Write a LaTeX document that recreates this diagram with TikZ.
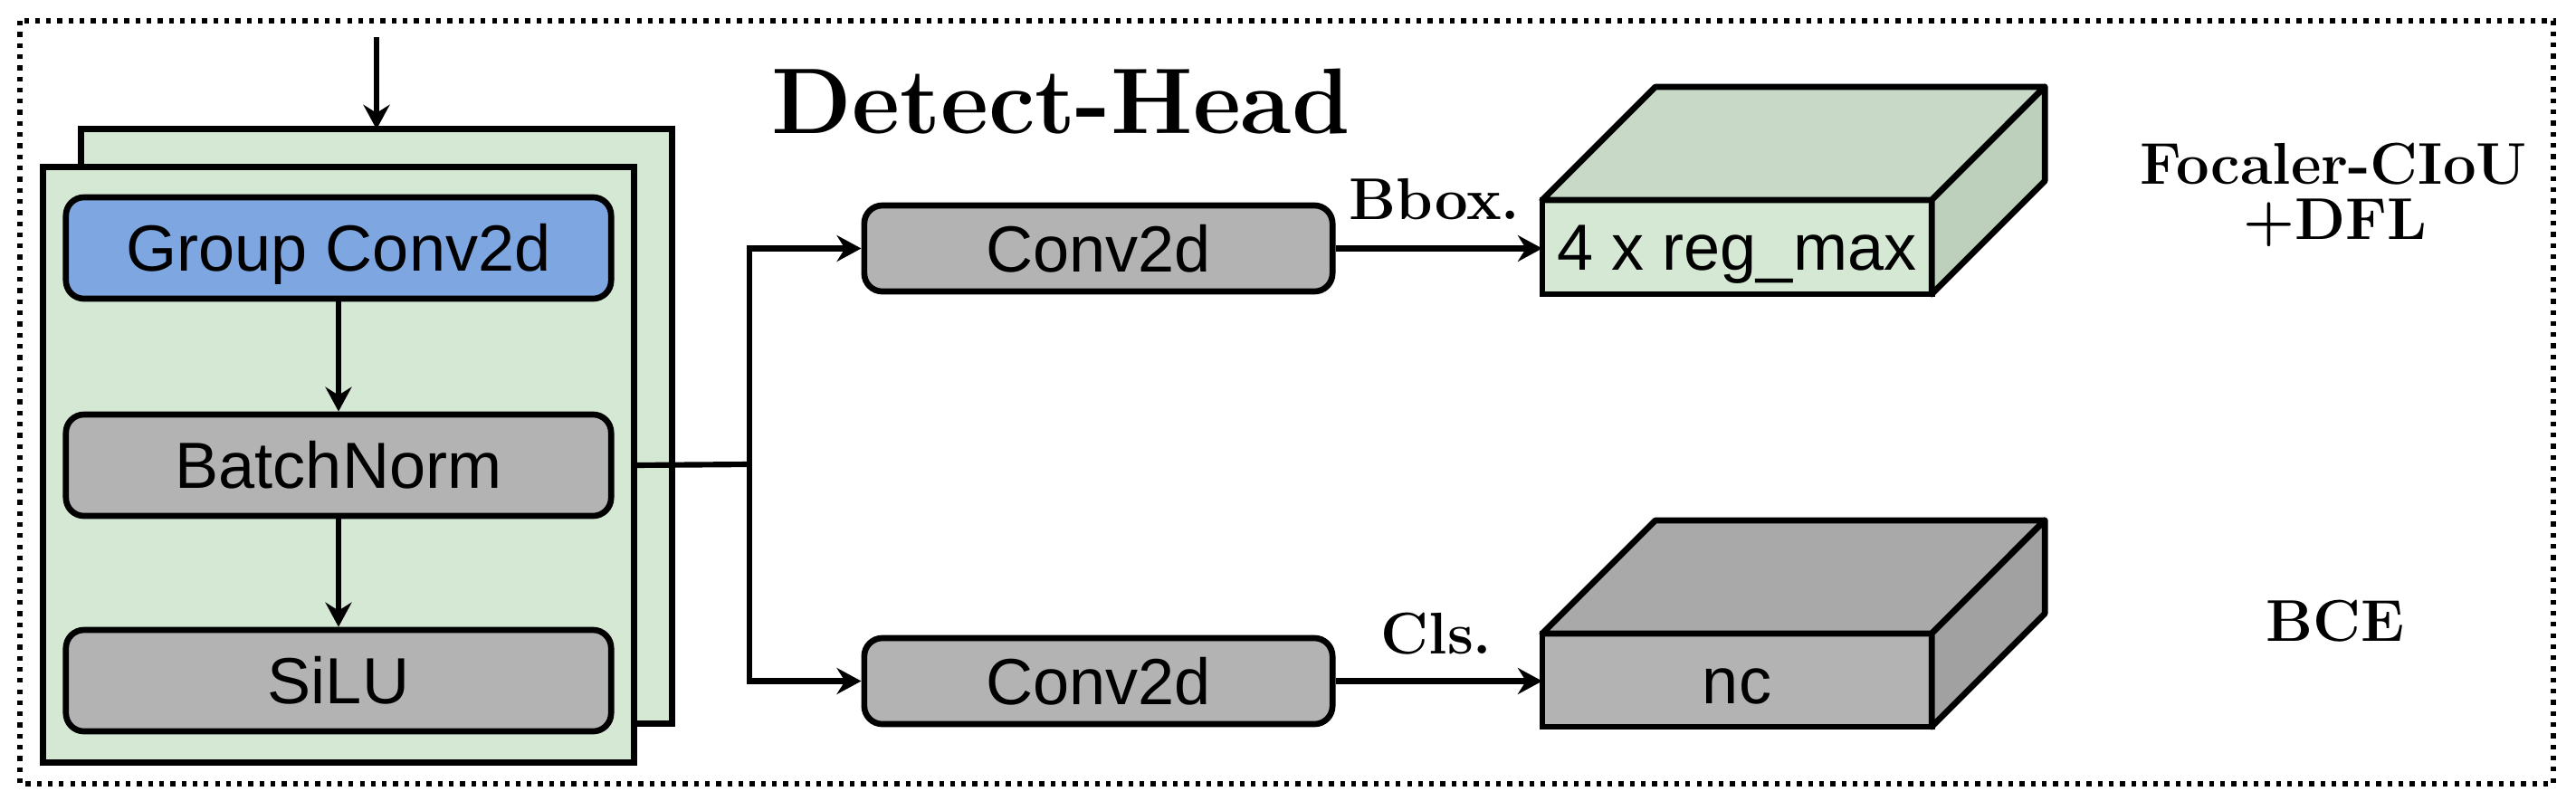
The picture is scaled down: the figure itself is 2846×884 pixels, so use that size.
\documentclass[tikz,border=0pt]{standalone}
\usepackage{fontspec}
\newfontfamily\arialf{Liberation Sans}
\usetikzlibrary{arrows.meta}
\definecolor{pgreen}{HTML}{D5E8D4}
\definecolor{gtop}{HTML}{C8DAC7}
\definecolor{gside}{HTML}{BDD0BC}
\definecolor{pblue}{HTML}{7EA6E0}
\definecolor{pgray}{HTML}{B3B3B3}
\definecolor{graytop}{HTML}{A9A9A9}
\definecolor{grayside}{HTML}{A1A1A1}
\tikzset{
  lw/.style={line width=1.9pt},
  panel/.style={draw, lw, fill=pgreen, inner sep=0pt, outer sep=0pt, minimum width=6.52cm, minimum height=6.56cm},
  layer/.style={draw, lw, rounded corners=0.2cm, inner sep=0pt, font=\arialf\fontsize{20.5}{24}\selectfont, text height=14.7pt, text depth=0pt},
  face/.style={draw, lw, inner sep=0pt, outer sep=0pt, font=\arialf\fontsize{20.5}{24}\selectfont, text height=14.7pt, text depth=0pt, minimum width=4.30cm, minimum height=1.04cm},
  arr/.style={line width=1.75pt, -{Stealth[length=0.27cm,width=0.29cm,inset=0.09cm]}},
  conn/.style={line width=1.75pt},
  lbl/.style={font=\bfseries\fontsize{18.5}{22}\selectfont, inner sep=0pt, anchor=base},
  faceedge/.style={lw, line join=round},
}
\begin{document}
\begin{tikzpicture}[x=0.01cm,y=-0.01cm]
\useasboundingbox (0,0) rectangle (2846,884);
% outer dotted frame
\draw[line width=1.5pt, dash pattern=on 1.5pt off 2pt, draw=black] (22,23) rectangle (2821,866);
% title
\node[font=\bfseries\fontsize{29.3}{34}\selectfont, inner sep=0pt, anchor=base] (title) at (1172,147) {Detect-Head};
% stacked panels
\node[panel] (back) at (416,471) {};
\node[panel, minimum height=6.57cm] (front) at (374,513.5) {};
\coordinate (inp) at (416,41);
\draw[arr] (inp) -- (back.north);
% layers
\node[layer, fill=pblue, minimum width=6.02cm, minimum height=1.12cm] (gc) at (374,274) {Group Conv2d};
\node[layer, fill=pgray, minimum width=6.02cm, minimum height=1.12cm] (bn) at (374,514) {BatchNorm};
\node[layer, fill=pgray, minimum width=6.02cm, minimum height=1.12cm] (silu) at (374,752) {SiLU};
\draw[arr] (gc) -- (bn);
\draw[arr] (bn) -- (silu);
% right conv boxes
\node[layer, fill=pgray, minimum width=5.17cm, minimum height=0.95cm] (c1) at (1213.5,274.5) {Conv2d};
\node[layer, fill=pgray, minimum width=5.17cm, minimum height=0.95cm] (c2) at (1213.5,752.5) {Conv2d};
% branch
\coordinate (sx) at (828,513);
\draw[conn] (front.east |- bn.east) -- (sx);
\draw[arr] (sx) |- (c1.west);
\draw[arr] (sx) |- (c2.west);
% cuboid 1
\node[face, fill=pgreen] (r1) at (1919,273) {4 x reg\_max};
\draw[faceedge, fill=gtop] (r1.north west) -- ++(125,-125) -- ++(430,0) -- (r1.north east) -- cycle;
\draw[faceedge, fill=gside] (r1.north east) -- ++(125,-125) -- ++(0,104) -- (r1.south east) -- cycle;
% cuboid 2
\node[face, fill=pgray, minimum height=1.03cm] (r2) at (1919,751.5) {nc};
\draw[faceedge, fill=graytop] (r2.north west) -- ++(125,-125) -- ++(430,0) -- (r2.north east) -- cycle;
\draw[faceedge, fill=grayside] (r2.north east) -- ++(125,-125) -- ++(0,103) -- (r2.south east) -- cycle;
% outputs
\draw[arr] (c1.east) -- (c1.east -| r1.west);
\draw[arr] (c2.east) -- (c2.east -| r2.west);
\node[lbl] (bbox) at (1585,242) {Bbox.};
\node[lbl] (cls) at (1587,722) {Cls.};
% losses
\node[lbl] (loss1) at (2578,203) {Focaler-CIoU};
\node[lbl] (loss1b) at (2580,264) {+DFL};
\node[lbl] (loss2) at (2580,708) {BCE};
\end{tikzpicture}
\end{document}
